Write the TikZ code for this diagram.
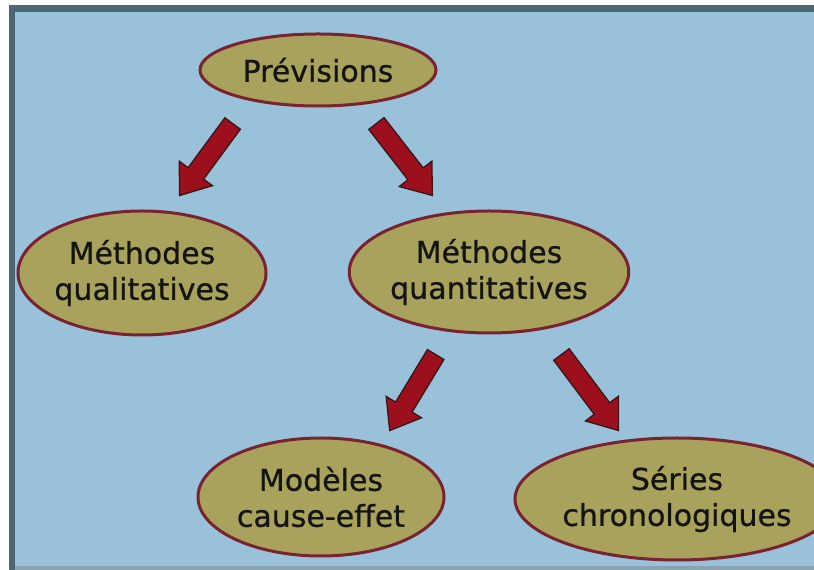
\documentclass[tikz,border=0pt]{standalone}
\usepackage{fontspec}
\setmainfont{DejaVu Sans}
\newfontfamily\labelfont[FakeBold=0.7]{DejaVu Sans}
\usetikzlibrary{shapes.geometric,shapes.arrows,calc}

\definecolor{frameslate}{HTML}{4E6672}
\definecolor{skyback}{HTML}{99C2DA}
\definecolor{bottomgray}{HTML}{8AA3B3}
\definecolor{khaki}{HTML}{A9A25C}
\definecolor{rimred}{HTML}{7B2230}
\definecolor{arrowred}{HTML}{9C0F1C}
\definecolor{arrowrim}{HTML}{3A1518}
\definecolor{inkdark}{HTML}{141410}

\tikzset{
  topic/.style={ellipse, draw=rimred, line width=3pt, fill=khaki,
    text=inkdark, align=center, inner sep=0pt,
    font=\labelfont\fontsize{30}{36}\selectfont},
  blockarrow/.style={single arrow, draw=arrowrim, line width=1.3pt,
    fill=arrowred, inner xsep=0pt, inner ysep=9pt,
    single arrow head extend=11pt, single arrow tip angle=74,
    single arrow head indent=0pt}
}

\begin{document}
\begin{tikzpicture}[x=1pt,y=1pt]
  % page, frame and backdrop
  \useasboundingbox (0,0) rectangle (814,570);
  \fill[white] (0,0) rectangle (814,570);
  \fill[frameslate] (9,0) rectangle (814,565);
  \fill[bottomgray] (15,0) rectangle (814,4);
  \fill[skyback] (15,4) rectangle (814,558);

  % ellipses
  \node[topic, minimum width=236pt, minimum height=72pt] (prev) at (318,500) {Prévisions};
  \node[topic, minimum width=248pt, minimum height=124pt] (qual) at (142,297) {Méthodes\\qualitatives};
  \node[topic, minimum width=236pt, minimum height=122pt] (quant) at (489,298) {Méthodes\\quantitatives};
  \node[topic, minimum width=246pt, minimum height=118pt] (model) at (321,73) {Modèles\\cause-effet};
  \node[topic, minimum width=262pt, minimum height=122pt] (series) at (677,71) {Séries\\chronologiques};

  % arrow ends
  \coordinate (a1t) at (233,447); \coordinate (a1h) at (180,375);
  \coordinate (a2t) at (376,447); \coordinate (a2h) at (432,375);
  \coordinate (a3t) at (436,216); \coordinate (a3h) at (390,140);
  \coordinate (a4t) at (561,216); \coordinate (a4h) at (618,140);

  % block arrows from tail to tip
  \foreach \s/\e in {a1t/a1h, a2t/a2h, a3t/a3h, a4t/a4h}{
    \path let \p1=(\s), \p2=(\e),
              \n1={atan2(\y2-\y1,\x2-\x1)},
              \n2={veclen(\x2-\x1,\y2-\y1)} in
      node[blockarrow, minimum height=\n2, rotate=\n1, anchor=tail] at (\s) {};
  }
\end{tikzpicture}
\end{document}
